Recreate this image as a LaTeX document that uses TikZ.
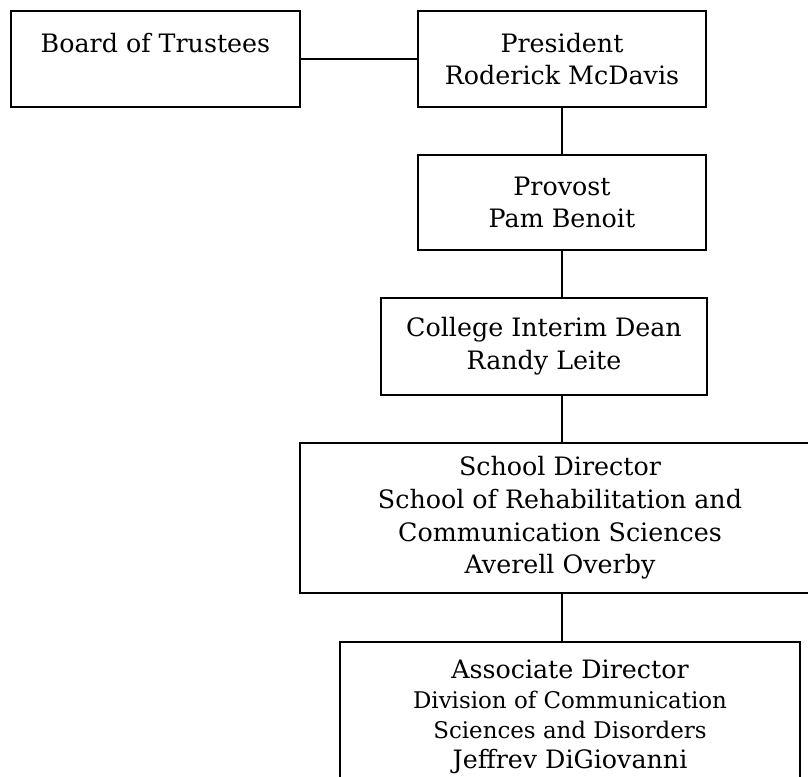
\documentclass[tikz,border=0pt]{standalone}
\usepackage{fontspec}
\setmainfont{DejaVu Serif}
\newcommand{\bigline}{\fontsize{19}{22.5}\selectfont}
\begin{document}
\begin{tikzpicture}[x=0.75pt,y=-0.75pt,
  box/.style={draw=black, line width=1.5pt, align=center, inner sep=0pt,
    font=\fontsize{19}{24.5}\selectfont},
  link/.style={draw=black, line width=1.5pt}]
\useasboundingbox (0,0) rectangle (808,777);
\clip (0,0) rectangle (808,777);
\node[box, minimum width=216.75pt, minimum height=72pt] (board) at (155.5,59) {Board of Trustees\\\mbox{}};
\node[box, minimum width=216pt, minimum height=72pt] (pres) at (562,59) {President\\Roderick McDavis};
\node[box, minimum width=216pt, minimum height=71.25pt] (prov) at (562,202.5) {Provost\\Pam Benoit};
\node[box, minimum width=244.5pt, minimum height=72.75pt] (dean) at (544,346.5) {College Interim Dean\\Randy Leite};
\node[box, minimum width=390pt, minimum height=112.5pt] (school) at (560,518) {School Director\\School of Rehabilitation and\\Communication Sciences\\Averell Overby};
\node[box, minimum width=345pt, minimum height=112.5pt, font=\fontsize{17.2}{22.5}\selectfont] (assoc) at (570,717) {{\bigline Associate Director}\\Division of Communication\\Sciences and Disorders\\{\bigline Jeffrev DiGiovanni}};
\draw[link] (board.east) -- (pres.west);
\draw[link] (pres.south) -- (prov.north);
\draw[link] (prov.south) -- (prov.south |- dean.north);
\draw[link] (prov.south |- dean.south) -- (prov.south |- school.north);
\draw[link] (prov.south |- school.south) -- (prov.south |- assoc.north);
\end{tikzpicture}
\end{document}
